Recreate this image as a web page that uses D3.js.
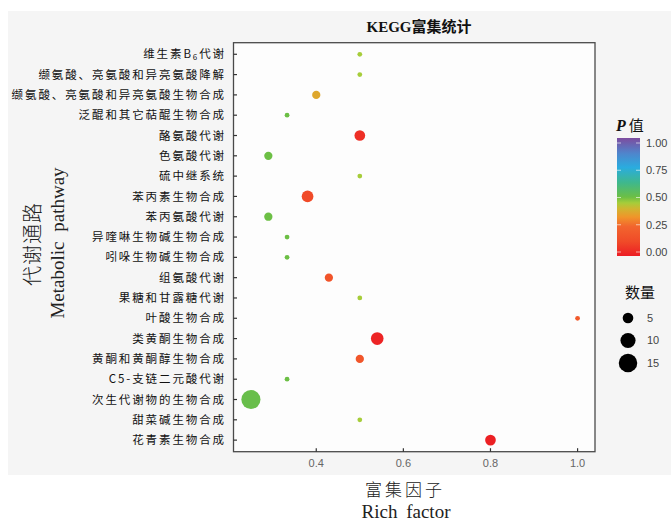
<!DOCTYPE html>
<html>
<head>
<meta charset="utf-8">
<script src="https://cdn.jsdelivr.net/npm/d3@7"></script>
<style>
  html, body { margin: 0; padding: 0; background: #ffffff; }
  svg { display: block; }
</style>
</head>
<body>
<svg id="chart" width="671" height="521"></svg>
<script>
// ---- data ----
const pathways = [
  "维生素B6代谢",
  "缬氨酸、亮氨酸和异亮氨酸降解",
  "缬氨酸、亮氨酸和异亮氨酸生物合成",
  "泛醌和其它萜醌生物合成",
  "酪氨酸代谢",
  "色氨酸代谢",
  "硫中继系统",
  "苯丙素生物合成",
  "苯丙氨酸代谢",
  "异喹啉生物碱生物合成",
  "吲哚生物碱生物合成",
  "组氨酸代谢",
  "果糖和甘露糖代谢",
  "叶酸生物合成",
  "类黄酮生物合成",
  "黄酮和黄酮醇生物合成",
  "C5-支链二元酸代谢",
  "次生代谢物的生物合成",
  "甜菜碱生物合成",
  "花青素生物合成"
];
const richFactor = [0.5, 0.5, 0.4, 0.333, 0.5, 0.29, 0.5, 0.38, 0.29, 0.333, 0.333, 0.429, 0.5, 1.0, 0.54, 0.5, 0.333, 0.25, 0.5, 0.8];
const geneCount  = [1, 1, 3, 1, 5, 3, 1, 6, 3, 1, 1, 3, 1, 1, 7, 3, 1, 16, 1, 5];
const pValue     = [0.45, 0.45, 0.37, 0.5, 0.05, 0.5, 0.45, 0.12, 0.5, 0.5, 0.5, 0.17, 0.45, 0.19, 0.02, 0.18, 0.5, 0.51, 0.45, 0.01];
const xTicks = [0.4, 0.6, 0.8, 1.0];
const pTicks = [0, 0.25, 0.5, 0.75, 1.0];
const sizeTicks = [5, 10, 15];

// ---- layout ----
const svg = d3.select("#chart");
const L = 233.5, R = 595, T = 42.7, B = 451.7;

svg.append("rect").attr("x", 8).attr("y", 11).attr("width", 663).attr("height", 464).attr("fill", "#f5f5f5");
svg.append("rect").attr("x", L).attr("y", T).attr("width", R - L).attr("height", B - T).attr("fill", "#fdfdfd");

const x = d3.scaleLinear().domain([0.21, 1.04]).range([L, R]);
const y = d3.scalePoint().domain(pathways).range([T, B]).padding(0.57);
const r = d3.scaleSqrt().domain([0, 15]).range([0, 9.25]);
const color = d3.scaleLinear()
  .domain([0, 0.12, 0.25, 0.33, 0.4, 0.45, 0.5, 0.62, 0.75, 0.87, 1.0])
  .range(["#ec1c24", "#f04a28", "#f2652e", "#f0952a", "#d0b530", "#a6cd3a", "#6cbf45", "#3fb88c", "#2aacdf", "#4f85cc", "#7d4c9f"]);

// points
const data = pathways.map((p, i) => ({ p, rf: richFactor[i], n: geneCount[i], pv: pValue[i] }));
svg.append("g").selectAll("circle")
  .data(data.slice().sort((a, b) => b.n - a.n))
  .join("circle")
  .attr("cx", d => x(d.rf))
  .attr("cy", d => y(d.p))
  .attr("r", d => r(d.n))
  .attr("fill", d => color(d.pv));

// frame
svg.append("rect").attr("x", L).attr("y", T).attr("width", R - L).attr("height", B - T)
  .attr("fill", "none").attr("stroke", "#4a4a4a").attr("stroke-width", 1.3);

// y ticks + labels
const yg = svg.append("g");
pathways.forEach(p => {
  yg.append("line").attr("x1", L).attr("x2", L + 3.5).attr("y1", y(p)).attr("y2", y(p))
    .attr("stroke", "#333").attr("stroke-width", 1.2);
  const t = yg.append("text").attr("x", 226).attr("y", y(p)).attr("dy", "0.36em")
    .attr("text-anchor", "end")
    .attr("font-family", "'Noto Sans CJK SC', sans-serif")
    .attr("font-size", 11.5).attr("fill", "#111").style("letter-spacing", "1.9px");
  const m = p.match(/^(.*B)(6)(.*)$/);
  if (m) {
    t.append("tspan").text(m[1]);
    t.append("tspan").attr("font-size", 8).attr("dy", 2).text(m[2]);
    t.append("tspan").attr("dy", -2).text(m[3]);
  } else {
    t.text(p);
  }
});

// x ticks + labels
const xg = svg.append("g");
xTicks.forEach(v => {
  xg.append("line").attr("x1", x(v)).attr("x2", x(v)).attr("y1", B).attr("y2", B - 3.5)
    .attr("stroke", "#333").attr("stroke-width", 1.2);
  xg.append("text").attr("x", x(v)).attr("y", 467).attr("text-anchor", "middle")
    .attr("font-family", "'Liberation Sans', Arial, sans-serif").attr("font-size", 11)
    .attr("fill", "#666").text(v.toFixed(1));
});

// title
svg.append("text").attr("x", 419).attr("y", 32).attr("text-anchor", "middle")
  .attr("font-family", "'Liberation Serif', 'Noto Sans CJK SC', serif")
  .attr("font-size", 15).attr("font-weight", "bold").attr("fill", "#111")
  .text("KEGG富集统计");

// axis titles
svg.append("text").attr("x", 405).attr("y", 496).attr("text-anchor", "middle")
  .attr("font-family", "'Noto Sans CJK SC', sans-serif").attr("font-size", 17)
  .attr("font-weight", 300).attr("fill", "#222").style("letter-spacing", "3px")
  .text("富集因子");
svg.append("text").attr("x", 406).attr("y", 518).attr("text-anchor", "middle")
  .attr("font-family", "'Liberation Serif', serif").attr("font-size", 19)
  .attr("fill", "#222").style("word-spacing", "4px")
  .text("Rich factor");

svg.append("text").attr("transform", "translate(40,244) rotate(-90)").attr("text-anchor", "middle")
  .attr("font-family", "'Noto Sans CJK SC', sans-serif").attr("font-size", 20)
  .attr("font-weight", 300).attr("fill", "#222").style("letter-spacing", "1px")
  .text("代谢通路");
svg.append("text").attr("transform", "translate(64,243) rotate(-90)").attr("text-anchor", "middle")
  .attr("font-family", "'Liberation Serif', serif").attr("font-size", 19)
  .attr("fill", "#222").style("word-spacing", "5px")
  .text("Metabolic pathway");

// colour legend
const lg = svg.append("g");
const pt = lg.append("text").attr("x", 616).attr("y", 131).attr("fill", "#111");
pt.append("tspan").attr("font-family", "'Liberation Serif', serif").attr("font-style", "italic")
  .attr("font-weight", "bold").attr("font-size", 16).text("P");
pt.append("tspan").attr("font-family", "'Noto Sans CJK SC', sans-serif").attr("font-size", 15)
  .attr("dx", 3).text("值");

const barTop = 138, barBot = 256, barX = 617, barW = 23;
const defs = svg.append("defs");
const grad = defs.append("linearGradient").attr("id", "pgrad")
  .attr("x1", 0).attr("y1", 1).attr("x2", 0).attr("y2", 0);
color.domain().forEach(v => {
  grad.append("stop").attr("offset", v).attr("stop-color", color(v));
});
lg.append("rect").attr("x", barX).attr("y", barTop).attr("width", barW).attr("height", barBot - barTop)
  .attr("fill", "url(#pgrad)");
const pScale = d3.scaleLinear().domain([0, 1]).range([barBot - 4, barTop + 5]);
pTicks.forEach(v => {
  [[barX, barX + 4], [barX + barW - 4, barX + barW]].forEach(([a, b]) => {
    lg.append("line").attr("x1", a).attr("x2", b).attr("y1", pScale(v)).attr("y2", pScale(v))
      .attr("stroke", "#ffffff").attr("stroke-opacity", 0.6).attr("stroke-width", 1);
  });
  lg.append("text").attr("x", 646).attr("y", pScale(v)).attr("dy", "0.36em")
    .attr("font-family", "'Liberation Sans', Arial, sans-serif").attr("font-size", 11)
    .attr("fill", "#444").text(v.toFixed(2));
});

// size legend
lg.append("text").attr("x", 625).attr("y", 298)
  .attr("font-family", "'Noto Sans CJK SC', sans-serif").attr("font-size", 15)
  .attr("fill", "#111").text("数量");
const sizeY = d3.scalePoint().domain(sizeTicks).range([318, 363]);
sizeTicks.forEach(v => {
  lg.append("circle").attr("cx", 628).attr("cy", sizeY(v)).attr("r", r(v)).attr("fill", "#000");
  lg.append("text").attr("x", 647).attr("y", sizeY(v)).attr("dy", "0.36em")
    .attr("font-family", "'Liberation Sans', Arial, sans-serif").attr("font-size", 11)
    .attr("fill", "#444").text(v);
});
</script>
</body>
</html>
